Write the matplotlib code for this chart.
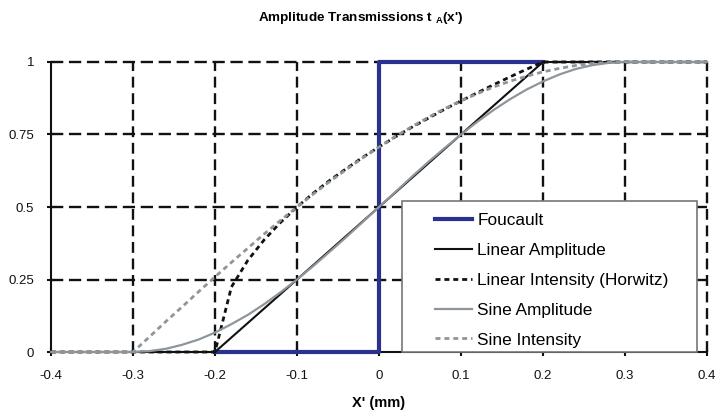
import matplotlib
matplotlib.use("Agg")
import matplotlib.pyplot as plt
from matplotlib.patches import Rectangle

plt.rcParams['font.family'] = ['Liberation Sans', 'DejaVu Sans']
plt.rcParams['mathtext.fontset'] = 'custom'
plt.rcParams['mathtext.rm'] = 'Liberation Sans'
plt.rcParams['mathtext.bf'] = 'Liberation Sans:bold'

x = [-0.40, -0.38, -0.36, -0.34, -0.32, -0.30, -0.28, -0.26, -0.24, -0.22,
     -0.20, -0.18, -0.16, -0.14, -0.12, -0.10, -0.08, -0.06, -0.04, -0.02,
     0.00, 0.02, 0.04, 0.06, 0.08, 0.10, 0.12, 0.14, 0.16, 0.18,
     0.20, 0.22, 0.24, 0.26, 0.28, 0.30, 0.32, 0.34, 0.36, 0.38, 0.40]

foucault_x = [-0.2, 0.0, 0.0, 0.2]
foucault_y = [0.0, 0.0, 1.0, 1.0]

linear_amp = [0, 0, 0, 0, 0, 0, 0, 0, 0, 0,
              0, 0.05, 0.10, 0.15, 0.20, 0.25, 0.30, 0.35, 0.40, 0.45,
              0.50, 0.55, 0.60, 0.65, 0.70, 0.75, 0.80, 0.85, 0.90, 0.95,
              1, 1, 1, 1, 1, 1, 1, 1, 1, 1, 1]

linear_int = [0, 0, 0, 0, 0, 0, 0, 0, 0, 0,
              0, 0.224, 0.316, 0.387, 0.447, 0.500, 0.548, 0.592, 0.632, 0.671,
              0.707, 0.742, 0.775, 0.806, 0.837, 0.866, 0.894, 0.922, 0.949, 0.975,
              1, 1, 1, 1, 1, 1, 1, 1, 1, 1, 1]

sine_amp = [0, 0, 0, 0, 0, 0, 0.003, 0.011, 0.025, 0.043,
            0.067, 0.096, 0.128, 0.165, 0.206, 0.250, 0.297, 0.346, 0.396, 0.448,
            0.500, 0.552, 0.604, 0.655, 0.703, 0.750, 0.794, 0.835, 0.872, 0.905,
            0.933, 0.957, 0.976, 0.989, 0.997, 1, 1, 1, 1, 1, 1]

sine_int = [0, 0, 0, 0, 0, 0, 0.052, 0.105, 0.156, 0.208,
            0.259, 0.309, 0.358, 0.407, 0.454, 0.500, 0.545, 0.588, 0.629, 0.669,
            0.707, 0.743, 0.777, 0.809, 0.839, 0.866, 0.891, 0.914, 0.934, 0.951,
            0.966, 0.978, 0.988, 0.995, 0.999, 1, 1, 1, 1, 1, 1]

xticks = [-0.4, -0.3, -0.2, -0.1, 0, 0.1, 0.2, 0.3, 0.4]
xticklabels = ['-0.4', '-0.3', '-0.2', '-0.1', '0', '0.1', '0.2', '0.3', '0.4']
yticks = [0, 0.25, 0.5, 0.75, 1]
yticklabels = ['0', '0.25', '0.5', '0.75', '1']

W, H = 721, 415
fig = plt.figure(figsize=(7.21, 4.15), dpi=100)
L, R, T, B = 51, 707, 62, 352
ax = fig.add_axes([L/W, 1-B/H, (R-L)/W, (B-T)/H])

ax.set_xlim(-0.4, 0.4)
ax.set_ylim(0, 1)

# grid
for xv in xticks[1:]:
    ax.plot([xv, xv], [0, 1], color='#111111', lw=1.7, dashes=(4.6, 2.4), zorder=1, clip_on=False)
for yv in yticks[1:]:
    ax.plot([-0.4, 0.4], [yv, yv], color='#111111', lw=1.7, dashes=(5.2, 2.4), zorder=1, clip_on=False)

gray = '#8E969C'
blue = '#2B3190'
ax.plot(foucault_x, foucault_y, color=blue, lw=3, label='Foucault', zorder=3, clip_on=False)
ax.plot(x, linear_amp, color='#111111', lw=1.5, label='Linear Amplitude', zorder=4, clip_on=False)
ax.plot(x, linear_int, color='#111111', lw=2.0, dashes=(1.8, 1.4), label='Linear Intensity (Horwitz)', zorder=4, clip_on=False)
ax.plot(x, sine_amp, color=gray, lw=1.6, label='Sine Amplitude', zorder=4, clip_on=False)
ax.plot(x, sine_int, color=gray, lw=2.0, dashes=(1.8, 1.4), label='Sine Intensity', zorder=4, clip_on=False)

ax.set_xticks(xticks)
ax.set_xticklabels(xticklabels)
ax.set_yticks(yticks)
ax.set_yticklabels(yticklabels)
ax.tick_params(direction='inout', length=6, width=1.5, labelsize=9.5, colors='#111111')
ax.tick_params(axis='x', pad=10)
ax.tick_params(axis='y', pad=9)

for s in ['top', 'right']:
    ax.spines[s].set_visible(False)
ax.spines['left'].set_linewidth(1.5)
ax.spines['bottom'].set_linewidth(1.5)
ax.spines['left'].set_color('#111111')
ax.spines['bottom'].set_color('#111111')

ax.set_xlabel("X' (mm)", fontsize=10.5, fontweight='bold', labelpad=10)
fig.text(0.5, 1-18/H, "Amplitude Transmissions t $_{\\mathbf{A}}$(x')", ha='center', va='center',
         fontsize=9.7, fontweight='bold')

# legend frame
lx0, lx1, ly0, ly1 = 402, 697, 201, 352
frame = Rectangle(((lx0-L)/(R-L), (B-ly1)/(B-T)), (lx1-lx0)/(R-L), (ly1-ly0)/(B-T),
                  transform=ax.transAxes, facecolor='white', edgecolor='#777777', lw=1.2,
                  zorder=9, clip_on=False)
ax.add_patch(frame)

leg = ax.legend(loc='upper left', bbox_to_anchor=((435-L)/(R-L), (B-213)/(B-T)),
                fontsize=12.4, frameon=False, borderaxespad=0, borderpad=0,
                handlelength=2.15, labelspacing=0.86, handletextpad=0.3)
leg.set_zorder(10)

fig.savefig('out.png', dpi=100)
